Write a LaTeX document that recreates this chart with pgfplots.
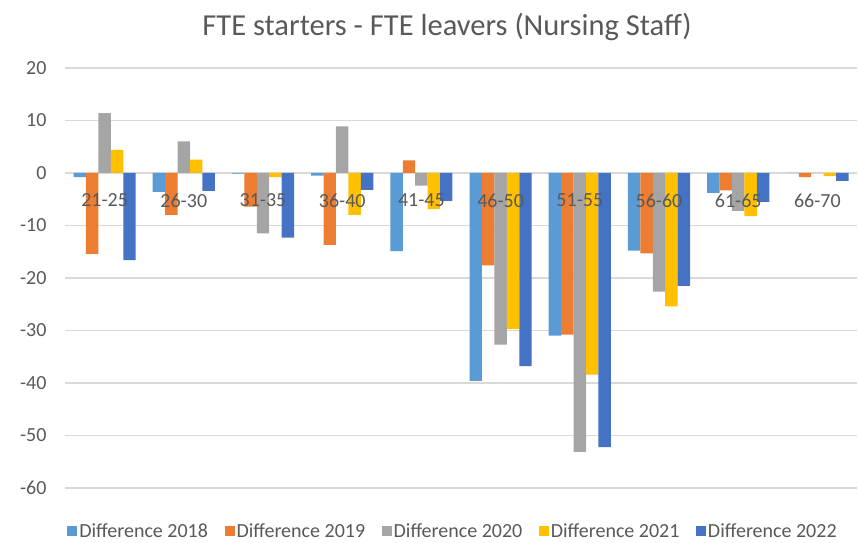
\documentclass[border=0pt]{standalone}
\usepackage{pgfplots}
\pgfplotsset{compat=1.18}
\usepackage{fontspec}
\setmainfont{Carlito}
\definecolor{c18}{HTML}{5B9BD5}
\definecolor{c19}{HTML}{ED7D31}
\definecolor{c20}{HTML}{A5A5A5}
\definecolor{c21}{HTML}{FFC000}
\definecolor{c22}{HTML}{4472C4}
\definecolor{txt}{HTML}{595959}
\definecolor{grid}{HTML}{D9D9D9}
\pgfplotsset{
  layers/labelsontop/.define layer set={
    axis background,axis grid,axis ticks,axis lines,pre main,main,
    axis tick labels,axis descriptions,axis foreground}{/pgfplots/layers/standard},
}
\begin{document}
\begin{tikzpicture}
\begin{axis}[
    set layers=labelsontop,
    scale only axis,
    width=792pt, height=420pt,
    ybar=0pt, bar width=0.157,
    xmin=-0.5, xmax=9.5,
    ymin=-60, ymax=20,
    ytick={-60,-50,...,20},
    axis x line=middle,
    axis y line=left,
    x axis line style={-, draw=grid, line width=1.2pt},
    y axis line style={draw=none},
    hide obscured y ticks=false,
    major tick length=0pt,
    ymajorgrids,
    grid style={draw=grid, line width=1.2pt},
    xtick={0,...,9},
    xticklabels={21-25,26-30,31-35,36-40,41-45,46-50,51-55,56-60,61-65,66-70},
    x tick label style={font=\fontsize{20}{24}\selectfont, text=txt, yshift=-17pt},
    y tick label style={font=\fontsize{20}{24}\selectfont, text=txt, xshift=-15pt},
    /pgf/number format/assume math mode=true,
    title={FTE starters - FTE leavers (Nursing Staff)},
    title style={font=\fontsize{30.5}{36}\selectfont, text=txt,
        at={(axis description cs:0.5,1)}, anchor=center, yshift=35pt, xshift=-14pt},
    legend style={draw=none, font=\fontsize{20}{24}\selectfont, text=txt,
        at={(axis description cs:0.5,0)}, anchor=center, yshift=-43pt, xshift=-8pt,
        /tikz/every even column/.append style={column sep=14.5pt}},
    legend columns=5,
    legend image code/.code={\fill[#1,draw=none] (-4pt,-5pt) rectangle (6pt,5pt);},
]
\addplot[fill=c18, draw=none] coordinates {(0,-0.8) (1,-3.6) (2,-0.1) (3,-0.5) (4,-14.9) (5,-39.6) (6,-31.0) (7,-14.8) (8,-3.8) (9,0)};
\addplot[fill=c19, draw=none] coordinates {(0,-15.4) (1,-8.0) (2,-6.4) (3,-13.7) (4,2.4) (5,-17.6) (6,-30.8) (7,-15.3) (8,-3.3) (9,-0.8)};
\addplot[fill=c20, draw=none] coordinates {(0,11.4) (1,6.0) (2,-11.5) (3,8.9) (4,-2.4) (5,-32.7) (6,-53.1) (7,-22.6) (8,-7.2) (9,0)};
\addplot[fill=c21, draw=none] coordinates {(0,4.4) (1,2.55) (2,-0.8) (3,-8.0) (4,-6.9) (5,-29.7) (6,-38.4) (7,-25.4) (8,-8.2) (9,-0.6)};
\addplot[fill=c22, draw=none] coordinates {(0,-16.6) (1,-3.4) (2,-12.3) (3,-3.2) (4,-5.3) (5,-36.8) (6,-52.2) (7,-21.5) (8,-5.5) (9,-1.5)};
\legend{Difference 2018, Difference 2019, Difference 2020, Difference 2021, Difference 2022}
\end{axis}
\path (-65pt,-54pt) rectangle (794pt,488pt);
\end{tikzpicture}
\end{document}
